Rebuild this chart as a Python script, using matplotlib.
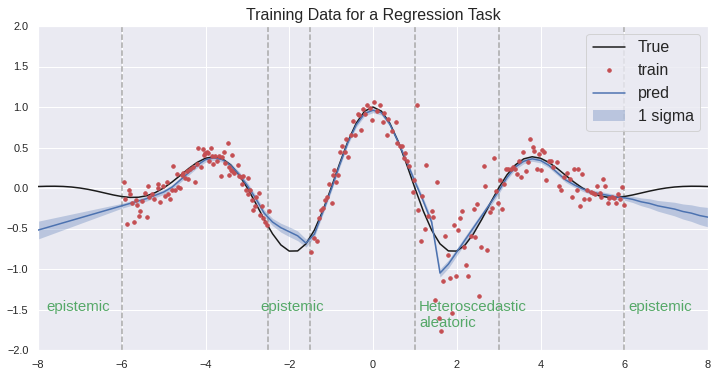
import numpy as np
import matplotlib
matplotlib.use("Agg")
import matplotlib.pyplot as plt
import seaborn as sns

sns.set_theme(style="darkgrid", color_codes=True)
plt.rcParams['font.family'] = ['Liberation Sans', 'DejaVu Sans']

# ---------------- data ----------------
x_grid = np.linspace(-8, 8, 81)

true_y = [0.0183, 0.0212, 0.0219, 0.0192, 0.0121, 0.0, -0.0172, -0.0386, -0.0625, -0.0861,
          -0.1054, -0.1161, -0.1140, -0.0950, -0.0570, 0.0, 0.0732, 0.1566, 0.2412, 0.3159,
          0.3679, 0.3858, 0.3599, 0.2854, 0.1629, 0.0, -0.1893, -0.3852, -0.5644, -0.7029,
          -0.7788, -0.7768, -0.6893, -0.5200, -0.2824, 0.0, 0.2969, 0.5747, 0.8009, 0.9487,
          1.0,
          0.9487, 0.8009, 0.5747, 0.2969, 0.0, -0.2824, -0.5200, -0.6893, -0.7768, -0.7788,
          -0.7029, -0.5644, -0.3852, -0.1893, 0.0, 0.1629, 0.2854, 0.3599, 0.3858, 0.3679,
          0.3159, 0.2412, 0.1566, 0.0732, 0.0, -0.0570, -0.0950, -0.1140, -0.1161, -0.1054,
          -0.0861, -0.0625, -0.0386, -0.0172, 0.0, 0.0121, 0.0192, 0.0219, 0.0212, 0.0183]

pred_y = [-0.52, -0.49, -0.46, -0.43, -0.40, -0.37, -0.34, -0.31, -0.28, -0.25,
          -0.22, -0.19, -0.16, -0.13, -0.09, -0.05, 0.01, 0.10, 0.19, 0.28,
          0.35, 0.37, 0.35, 0.28, 0.17, 0.03, -0.13, -0.31, -0.42, -0.49,
          -0.54, -0.59, -0.68, -0.57, -0.30, -0.02, 0.28, 0.56, 0.78, 0.92,
          0.96,
          0.93, 0.79, 0.57, 0.33, 0.08, -0.16, -0.42, -1.05, -0.94, -0.79,
          -0.64, -0.49, -0.34, -0.19, -0.04, 0.13, 0.26, 0.33, 0.36, 0.34,
          0.28, 0.19, 0.10, 0.04, -0.01, -0.05, -0.07, -0.09, -0.11, -0.12,
          -0.14, -0.17, -0.19, -0.22, -0.24, -0.26, -0.29, -0.31, -0.34, -0.36]

pred_sigma = [0.11, 0.102, 0.094, 0.086, 0.078, 0.07, 0.062, 0.054, 0.046, 0.038,
              0.03, 0.03, 0.03, 0.03, 0.03, 0.03, 0.03, 0.03, 0.03, 0.03,
              0.03, 0.03, 0.03, 0.03, 0.035, 0.04, 0.04, 0.04, 0.045, 0.055,
              0.06, 0.06, 0.05, 0.035, 0.03, 0.03, 0.03, 0.03, 0.03, 0.03,
              0.03,
              0.03, 0.03, 0.03, 0.03, 0.035, 0.04, 0.045, 0.05, 0.05, 0.045,
              0.045, 0.045, 0.04, 0.04, 0.035, 0.03, 0.03, 0.03, 0.03, 0.03,
              0.03, 0.03, 0.03, 0.03, 0.03, 0.03, 0.03, 0.03, 0.03, 0.03,
              0.039, 0.048, 0.057, 0.066, 0.075, 0.084, 0.093, 0.102, 0.111, 0.12]

train_x_a = [-5.94, -5.83, -5.80, -5.92, -5.87, -5.70, -5.56, -5.59, -5.63, -5.76,
             -5.67, -5.52, -5.44, -5.38, -5.40, -5.36, -5.27, -5.22, -5.14, -5.13,
             -5.09, -5.01, -4.97, -4.93, -4.89, -4.85, -4.79, -4.77, -4.73, -4.69,
             -4.65, -4.60, -4.57, -4.53, -4.49, -4.45, -4.41, -4.37, -4.29, -4.25,
             -4.21, -4.17, -4.11, -4.07, -4.03, -4.01, -3.97, -3.93, -3.91, -3.87,
             -3.85, -3.81, -3.77, -3.73, -3.68, -3.63, -3.60, -3.57, -3.53, -3.47,
             -3.45, -3.43, -3.39, -3.36, -3.36, -3.33, -3.23, -3.20, -3.15, -3.14,
             -3.10, -3.04, -2.99, -2.98, -2.94, -2.90, -2.86, -2.82, -2.80, -2.72,
             -2.69, -2.66, -2.62, -2.58, -2.54, -2.49]
train_y_a = [0.08, -0.02, -0.08, -0.14, -0.44, -0.42, -0.28, -0.35, -0.21, -0.19,
             -0.15, -0.16, -0.06, 0.02, -0.36, -0.11, -0.07, -0.14, 0.05, 0.00,
             -0.17, 0.02, -0.10, 0.07, -0.07, -0.14, -0.02, 0.27, -0.03, 0.17,
             0.01, 0.00, 0.16, 0.18, 0.12, 0.21, 0.11, 0.23, 0.26, 0.08,
             0.30, 0.50, 0.26, 0.48, 0.41, 0.43, 0.45, 0.43, 0.33, 0.49,
             0.39, 0.30, 0.40, 0.33, 0.40, 0.15, 0.38, 0.44, 0.31, 0.55,
             0.26, 0.16, 0.22, 0.41, 0.21, 0.18, 0.29, 0.15, 0.13, 0.05,
             0.15, -0.02, 0.12, -0.07, -0.02, -0.15, -0.27, -0.22, -0.11, -0.06,
             -0.33, -0.22, -0.37, -0.42, -0.46, -0.28]

train_x_b = [-1.49, -1.41, -1.33, -1.28, -1.23, -1.19, -1.15, -1.09, -0.97, -1.04,
             -0.95, -0.88, -0.92, -0.83, -0.79, -0.73, -0.68, -0.64, -0.59, -0.53,
             -0.47, -0.42, -0.37, -0.33, -0.28, -0.23, -0.18, -0.14, -0.07, -0.02,
             0.03, 0.10, 0.17, 0.23, 0.27, 0.33, 0.37, 0.45, 0.54, 0.58,
             0.65, 0.69, 0.73, 0.76, 0.80, 0.85, 0.95, 0.98]
train_y_b = [-0.79, -0.62, -0.66, -0.37, -0.27, -0.25, -0.15, -0.11, -0.19, 0.05,
             0.16, 0.07, 0.22, 0.16, 0.44, 0.52, 0.45, 0.60, 0.38, 0.65,
             0.83, 0.65, 0.91, 0.90, 0.72, 0.98, 0.91, 1.02, 0.99, 0.84,
             1.06, 0.95, 1.03, 0.81, 0.93, 0.65, 0.85, 0.70, 0.81, 0.55,
             0.52, 0.52, 0.37, 0.43, 0.33, 0.27, -0.05, 0.10]

train_x_c = [1.04, 1.08, 1.18, 1.27, 1.23, 1.14, 1.32, 1.40, 1.44, 1.54,
             1.49, 1.58, 1.62, 1.68, 1.73, 1.78, 1.85, 1.89, 1.94, 1.99,
             2.04, 2.08, 2.13, 2.18, 2.23, 2.28, 2.34, 2.40, 2.44, 2.49,
             2.53, 2.58, 2.64, 2.68, 2.73, 2.79, 2.85, 2.90, 2.94, 2.99,
             3.03, 3.09, 3.14]
train_y_c = [1.02, -0.27, -0.10, 0.29, -0.50, -0.65, -0.34, -0.28, -0.36, 0.07,
             -1.38, -1.60, -1.77, -1.15, -0.59, -0.83, -1.11, -1.54, -0.46, -1.09,
             -0.52, -0.37, -0.28, -0.73, -0.95, -1.09, -0.59, -0.26, -0.61, -0.20,
             -1.33, -0.73, 0.27, 0.02, -0.76, -0.30, -0.25, 0.37, -0.04, -0.19,
             0.10, -0.26, 0.05]

train_x_d = [3.18, 3.23, 3.29, 3.35, 3.39, 3.45, 3.49, 3.54, 3.59, 3.65,
             3.69, 3.75, 3.81, 3.85, 3.91, 3.96, 4.00, 4.04, 4.08, 4.14,
             4.20, 4.25, 4.31, 4.40, 4.45, 4.50, 4.56, 4.64, 4.71, 4.76,
             4.81, 4.86, 4.90, 4.95, 5.00, 5.05, 5.10, 5.16, 5.21, 5.26,
             5.30, 5.35, 5.41, 5.45, 5.50, 5.55, 5.60, 5.64, 5.70, 5.76,
             5.80, 5.86, 5.91, 5.95, 6.00]
train_y_d = [0.23, 0.23, 0.24, 0.26, 0.24, 0.17, 0.33, 0.13, 0.44, 0.21,
             0.32, 0.61, 0.51, 0.46, 0.24, 0.42, 0.22, 0.47, 0.44, 0.10,
             0.33, 0.33, 0.26, 0.32, 0.03, -0.02, 0.14, 0.18, 0.11, -0.11,
             0.23, -0.03, 0.24, -0.22, 0.17, -0.14, -0.03, -0.14, -0.05, -0.06,
             -0.07, 0.03, -0.06, -0.11, 0.11, 0.03, -0.19, -0.12, -0.11, -0.12,
             -0.18, -0.07, -0.14, 0.01, -0.21]

region_bounds = [-6, -2.5, -1.5, 1, 3, 6]
region_labels = ["epistemic", "epistemic", "Heteroscedastic\naleatoric", "epistemic"]
label_x = [-7.8, -2.7, 1.1, 6.1]
label_y = [-1.52, -1.52, -1.72, -1.52]

# ---------------- plot ----------------
train_x = np.array(train_x_a + train_x_b + train_x_c + train_x_d)
train_y = np.array(train_y_a + train_y_b + train_y_c + train_y_d)
pred = np.array(pred_y)
sig = np.array(pred_sigma)

fig = plt.figure(figsize=(718 / 72, 378 / 72), dpi=72)
ax = fig.add_axes([38 / 718, 1 - 350 / 378, 670 / 718, 324 / 378])

ax.plot(x_grid, true_y, color='k', lw=1.5, label='True', zorder=3)
ax.plot(train_x, train_y, 'r.', ms=7, label='train', zorder=4)
ax.plot(x_grid, pred, color='b', lw=1.5, label='pred', zorder=3)
ax.fill_between(x_grid, pred - sig, pred + sig, color='b', alpha=0.3, lw=0, label='1 sigma', zorder=2)

for b in region_bounds:
    ax.axvline(b, color='#a8a8a8', ls='--', lw=1.5, zorder=1)
for lx, ly, lab in zip(label_x, label_y, region_labels):
    ax.text(lx, ly, lab, color='g', fontsize=15)

ax.set_xlim(-8, 8)
ax.set_ylim(-2, 2)
ax.set_xticks(np.arange(-8, 9, 2))
ax.set_yticks(np.arange(-2, 2.01, 0.5))
ax.tick_params(labelsize=11)
ax.set_title('Training Data for a Regression Task', fontsize=16)
ax.legend(loc='upper right', fontsize=16, labelspacing=0.5)

fig.savefig('out.png', dpi=72)
